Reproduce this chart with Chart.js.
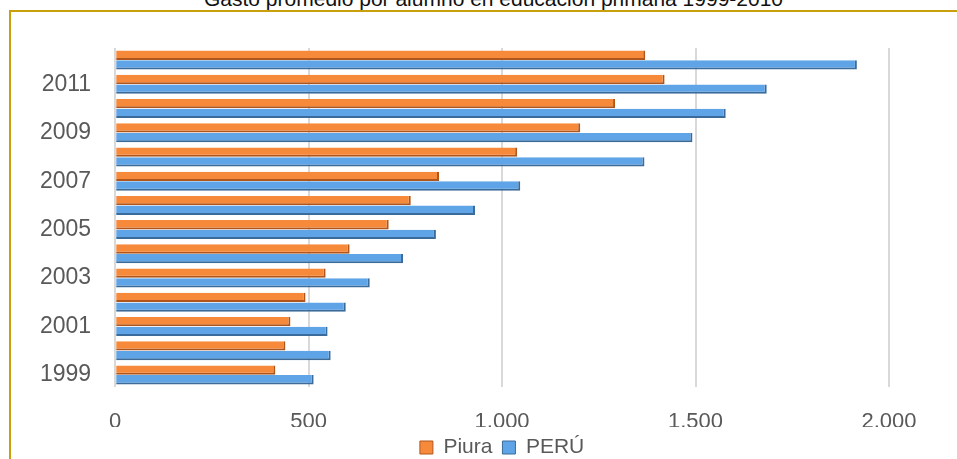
<!DOCTYPE html>
<html lang="es">
<head>
<meta charset="utf-8">
<title>Gasto promedio por alumno en educación primaria</title>
<script src="https://cdn.jsdelivr.net/npm/chart.js@4.4.1/dist/chart.umd.min.js"></script>
<style>
    html, body { margin: 0; padding: 0; background: #fff; overflow: hidden; }
    #wrap { position: relative; width: 957px; height: 459px; }
    #marco {
        position: absolute; left: 9px; top: 10px; width: 960px; height: 460px;
        border-left: 2px solid #C99F0B; border-top: 2px solid #C99F0B;
    }
    #titulo {
        position: absolute; left: 204px; top: -12px; margin: 0;
        font: 21px/21px "Liberation Sans", Arial, sans-serif; color: #111;
        white-space: nowrap;
    }
    #grafico { position: absolute; left: 0; top: 0; }
</style>
</head>
<body>
<div id="wrap">
    <div id="marco"></div>
    <h1 id="titulo">Gasto promedio por alumno en educación primaria 1999-2010</h1>
    <canvas id="grafico" width="957" height="459"></canvas>
</div>
<script>
// Datos (de 1999 a 2012)
const anios = ['1999', '2000', '2001', '2002', '2003', '2004', '2005', '2006', '2007', '2008', '2009', '2010', '2011', '2012'];
const piura = [414, 440, 453, 492, 544, 606, 707, 764, 837, 1039, 1202, 1292, 1420, 1370];
const peru = [513, 557, 549, 596, 658, 744, 829, 930, 1047, 1368, 1492, 1578, 1684, 1917];
const ticksX = [0, 500, 1000, 1500, 2000];
const textosX = ['0', '500', '1,000', '1,500', '2,000'];

document.addEventListener('DOMContentLoaded', () => {
    const ctx = document.getElementById('grafico').getContext('2d');
    const fuente = '"Liberation Sans", Arial, sans-serif';

    // el año mas reciente va arriba
    const etiquetas = anios.slice().reverse();

    // fija el alto de la leyenda para que quede pegada a los ticks
    const altoLeyenda = {
        id: 'altoLeyenda',
        beforeInit(chart) {
            const fitOriginal = chart.legend.fit;
            chart.legend.fit = function () {
                fitOriginal.bind(chart.legend)();
                this.height = 31;
            };
        }
    };

    new Chart(ctx, {
        type: 'bar',
        data: {
            labels: etiquetas,
            datasets: [
                {
                    label: 'Piura',
                    data: piura.slice().reverse(),
                    backgroundColor: '#F7893A',
                    borderColor: '#B0561C',
                    borderWidth: { top: 0, left: 0, right: 2, bottom: 2 },
                    borderSkipped: 'start'
                },
                {
                    label: 'PERÚ',
                    data: peru.slice().reverse(),
                    backgroundColor: '#5EA4E7',
                    borderColor: '#3A6B9A',
                    borderWidth: { top: 0, left: 0, right: 2, bottom: 2 },
                    borderSkipped: 'start'
                }
            ]
        },
        options: {
            indexAxis: 'y',
            responsive: false,
            animation: false,
            categoryPercentage: 0.8,
            barPercentage: 0.96,
            layout: { padding: { left: 16, right: 68, top: 48, bottom: 1 } },
            scales: {
                x: {
                    min: 0,
                    max: 2000,
                    afterBuildTicks: (scale) => {
                        scale.ticks = ticksX.map(v => ({ value: v }));
                    },
                    afterFit: (scale) => { scale.height = 40; },
                    grid: { color: '#D9D9D9', lineWidth: 2, drawTicks: false },
                    border: { display: false },
                    ticks: {
                        padding: 24,
                        color: '#595959',
                        font: { family: fuente, size: 22, lineHeight: 1 },
                        callback: (v) => textosX[ticksX.indexOf(v)]
                    }
                },
                y: {
                    grid: { display: false, drawTicks: false },
                    border: { display: false },
                    ticks: {
                        autoSkip: false,
                        padding: 24,
                        color: '#595959',
                        font: { family: fuente, size: 23 },
                        callback: function (v) {
                            const a = this.getLabelForValue(v);
                            return Number(a) % 2 === 1 ? a : '';
                        }
                    }
                }
            },
            plugins: {
                title: { display: false },
                tooltip: { enabled: false },
                legend: {
                    position: 'bottom',
                    fullSize: false,
                    labels: {
                        color: '#595959',
                        boxWidth: 13,
                        boxHeight: 13,
                        padding: 10,
                        font: { family: fuente, size: 21, lineHeight: 1 }
                    }
                }
            }
        },
        plugins: [altoLeyenda]
    });
});
</script>
</body>
</html>
